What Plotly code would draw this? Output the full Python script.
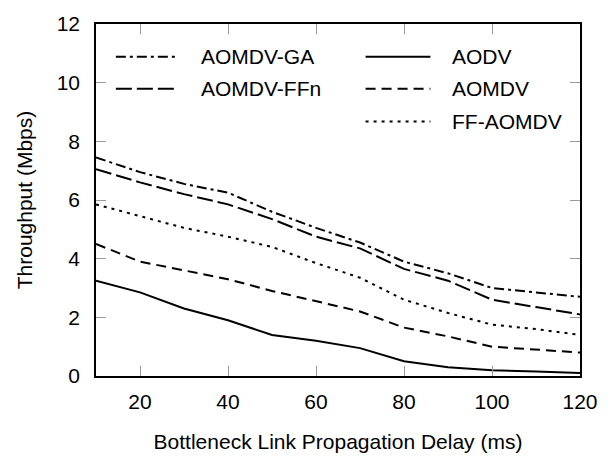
import plotly.graph_objects as go

delay = [10, 20, 30, 40, 50, 60, 70, 80, 90, 100, 110, 120]
aomdv_ga = [7.45, 6.95, 6.55, 6.25, 5.6, 5.05, 4.55, 3.9, 3.5, 3.0, 2.85, 2.7]
aomdv_ffn = [7.05, 6.6, 6.2, 5.85, 5.35, 4.75, 4.35, 3.65, 3.25, 2.6, 2.35, 2.1]
ff_aomdv = [5.85, 5.45, 5.05, 4.75, 4.4, 3.85, 3.35, 2.6, 2.15, 1.75, 1.6, 1.4]
aomdv = [4.5, 3.9, 3.6, 3.3, 2.9, 2.55, 2.2, 1.65, 1.35, 1.0, 0.9, 0.8]
aodv = [3.25, 2.85, 2.3, 1.9, 1.4, 1.2, 0.95, 0.5, 0.3, 0.2, 0.15, 0.1]

x_ticks = [20, 40, 60, 80, 100, 120]
y_ticks = [0, 2, 4, 6, 8, 10, 12]

# name, values, dash pattern, legend column, legend row
series = [
    ("AOMDV-GA", aomdv_ga, "10px,4px,3px,4px", 0, 0),
    ("AOMDV-FFn", aomdv_ffn, "16px,5px", 0, 1),
    ("AODV", aodv, "solid", 1, 0),
    ("AOMDV", aomdv, "10px,6px", 1, 1),
    ("FF-AOMDV", ff_aomdv, "3px,5px", 1, 2),
]

font = "Liberation Sans, Arial, sans-serif"

fig = go.Figure()
for name, vals, dash, col, row in series:
    fig.add_trace(go.Scatter(
        x=delay, y=vals, name=name, mode="lines",
        line=dict(color="black", width=2, dash=dash),
        showlegend=False,
    ))

# legend drawn in paper coordinates (two columns, like the original)
col_line_x = [(0.041, 0.171), (0.557, 0.691)]
col_text_x = [0.213, 0.732]
row_y = [0.907, 0.816, 0.723]
for name, vals, dash, col, row in series:
    x0, x1 = col_line_x[col]
    y = row_y[row]
    fig.add_shape(type="line", xref="paper", yref="paper",
                  x0=x0, x1=x1, y0=y, y1=y,
                  line=dict(color="black", width=2, dash=dash))
    fig.add_annotation(xref="paper", yref="paper", x=col_text_x[col], y=y,
                       xanchor="left", yanchor="middle", showarrow=False,
                       text=name, font=dict(family=font, size=21, color="black"))

axis_common = dict(
    showline=True, linecolor="black", linewidth=1.5, mirror="allticks",
    ticks="inside", ticklen=10, tickcolor="#999999", tickwidth=1,
    showgrid=False, zeroline=False,
    tickfont=dict(family=font, size=21, color="black"),
)

fig.update_layout(
    width=610, height=462,
    margin=dict(l=96, r=22, t=15, b=82),
    plot_bgcolor="white", paper_bgcolor="white",
    font=dict(family=font, color="black"),
    showlegend=False,
    xaxis=dict(range=[10, 120], tickvals=x_ticks, ticklabelstandoff=6,
               title=dict(text="Bottleneck Link Propagation Delay (ms)",
                          font=dict(family=font, size=21), standoff=22),
               **axis_common),
    yaxis=dict(range=[0, 12], tickvals=y_ticks, ticklabelstandoff=10,
               title=dict(text="Throughput (Mbps)",
                          font=dict(family=font, size=21), standoff=18),
               **axis_common),
)

fig.write_html("out.html")
